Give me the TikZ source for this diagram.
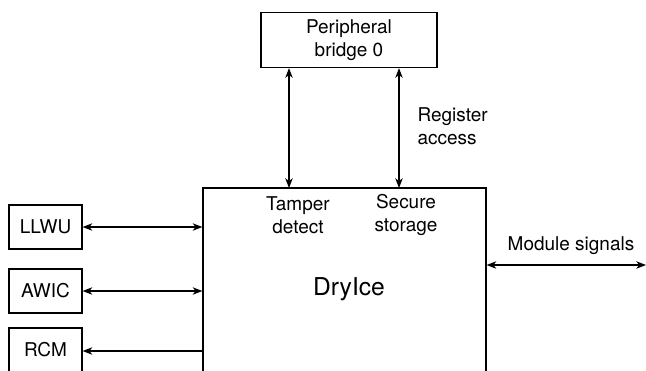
\documentclass[tikz,border=0pt]{standalone}
\usepackage{fontspec}
\setmainfont{TeX Gyre Heros}
\usetikzlibrary{arrows.meta,positioning}

\begin{document}
\begin{tikzpicture}[>={Stealth[length=5.5pt,width=4.2pt,inset=1.6pt]},
    x=0.02cm,y=-0.02cm,line width=0.7pt,
    font=\fontsize{10.8}{13.4}\selectfont,
    blk/.style={draw,minimum width=1.46cm,minimum height=0.88cm},
    txt/.style={align=center,inner sep=0pt}]
  \useasboundingbox (0,0) rectangle (646,370);
  \clip (0,0) rectangle (646,370);
  % top and main blocks
  \node[draw,minimum width=3.52cm,minimum height=1.1cm,align=center]
        (bridge) at (349,40) {Peripheral\\bridge 0};
  \node[draw,minimum width=5.66cm,minimum height=4.64cm]
        (dryice) at (344.5,304) {};
  \node[txt] (dryicelbl) at (349,289) {\fontsize{14}{16}\selectfont DryIce};
  \node[txt] (tamper) at (298,215) {Tamper\\detect};
  \node[txt] (secure) at (406,215) {Secure\\storage};
  \node[txt,align=left,anchor=west] (regacc) at (417,126) {Register\\access};
  % side blocks
  \node[blk] (llwu) at (45.5,227) {LLWU};
  \node[blk] (awic) at (45.5,291) {AWIC};
  \node[blk] (rcm) at (45.5,350) {RCM};
  \coordinate (tp) at (289,188);
  \coordinate (ss) at (399,188);
  \coordinate (modout) at (646,265);
  \draw[<->] (bridge.south -| tp) -- (tp);
  \draw[<->] (bridge.south -| ss) -- (ss);
  \draw[<->] (llwu.east) -- (llwu.east -| dryice.west);
  \draw[<->] (awic.east) -- (awic.east -| dryice.west);
  \draw[<-] (rcm.east |- 0,351) -- (dryice.west |- 0,351);
  \draw[<->] (dryice.east |- modout) -- (modout);
  \node[txt] (modsig) at (571,246) {Module signals};
\end{tikzpicture}
\end{document}
